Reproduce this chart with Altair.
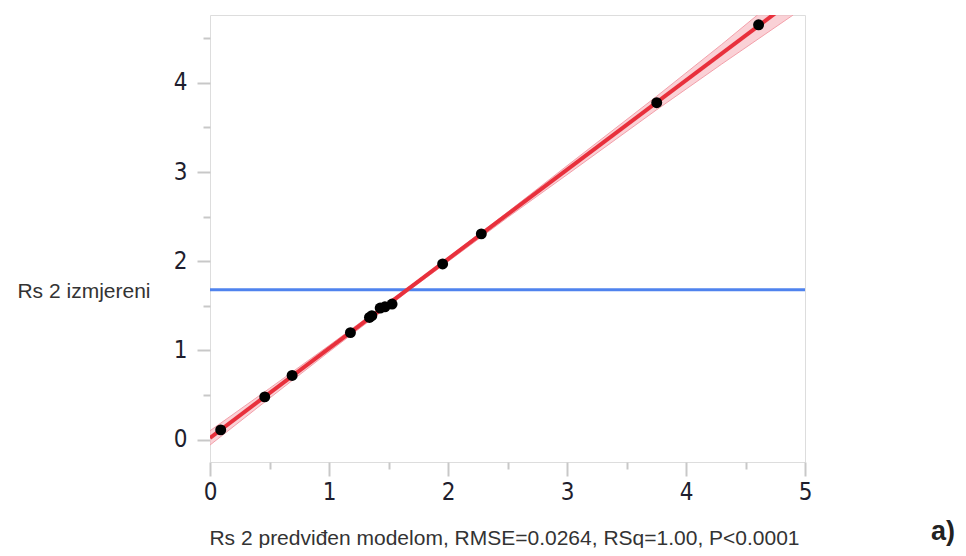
import altair as alt
import pandas as pd

# measured points
x_pred = [0.09, 0.46, 0.69, 1.18, 1.34, 1.36, 1.43, 1.47, 1.53, 1.955, 2.28, 3.754, 4.61]
y_meas = [0.11, 0.48, 0.72, 1.20, 1.37, 1.39, 1.475, 1.49, 1.52, 1.97, 2.307, 3.777, 4.65]

# fit line
fit_x = [0.0, 4.9]
fit_y = [0.02, 4.93]

# confidence band
band_x = [0.0, 0.5, 1.0, 1.7, 2.5, 3.0, 3.75, 4.3, 4.9]
band_lo = [-0.06, 0.465, 0.985, 1.70, 2.49, 2.97, 3.695, 4.21, 4.76]
band_hi = [0.10, 0.575, 1.055, 1.74, 2.55, 3.07, 3.845, 4.43, 5.09]

mean_y = 1.68

major_ticks = [0, 1, 2, 3, 4, 5]
major_ticks_y = [0, 1, 2, 3, 4]
minor_ticks = [0.5, 1.5, 2.5, 3.5, 4.5]

x_title = "Rs 2 predviđen modelom, RMSE=0.0264, RSq=1.00, P<0.0001"
y_title = "Rs 2 izmjereni"
panel_label = "a)"

pts = pd.DataFrame({"x": x_pred, "y": y_meas})
fit = pd.DataFrame({"x": fit_x, "y": fit_y})
band = pd.DataFrame({"x": band_x, "lo": band_lo, "hi": band_hi})
mean_df = pd.DataFrame({"y": [mean_y]})
lab = pd.DataFrame({"t": [panel_label]})

xs = alt.Scale(domain=[0, 5], nice=False, zero=False)
ys = alt.Scale(domain=[-0.25, 4.76], nice=False, zero=False)

label_font = "DejaVu Sans Condensed"
title_font = "Liberation Sans"

x_major = alt.Axis(values=major_ticks, tickSize=14, tickColor="#c8c8c8", tickWidth=2,
                   domain=False, grid=False, labelFont=label_font, labelFontSize=24,
                   labelColor="#1e1e2e", labelPadding=4, labelFlush=False, title=x_title,
                   titleFont=title_font, titleFontSize=21, titleFontWeight="normal",
                   titleColor="#333333", titleX=294, titleY=82, titleAlign="center",
                   titleBaseline="alphabetic", orient="bottom")
y_major = alt.Axis(values=major_ticks_y, tickSize=13, tickColor="#c8c8c8", tickWidth=2,
                   domain=False, grid=False, labelFont=label_font, labelFontSize=24,
                   labelColor="#1e1e2e", labelPadding=10, labelFlush=False, title=y_title,
                   titleFont=title_font, titleFontSize=21, titleFontWeight="normal",
                   titleColor="#333333", titleAngle=0, titleAlign="right",
                   titleBaseline="middle", titleX=-60, titleY=276, orient="left")
x_minor = alt.Axis(values=minor_ticks, tickSize=7, tickColor="#c8c8c8", tickWidth=2,
                   domain=False, grid=False, labels=False, title=None, orient="bottom")
y_minor = alt.Axis(values=minor_ticks, tickSize=7, tickColor="#c8c8c8", tickWidth=2,
                   domain=False, grid=False, labels=False, title=None, orient="left")

band_layer = alt.Chart(band).mark_area(clip=True, color="#f7b9c0", opacity=0.65).encode(
    x=alt.X("x:Q", scale=xs, axis=x_major),
    y=alt.Y("lo:Q", scale=ys, axis=y_major),
    y2="hi:Q",
)
band_lo_line = alt.Chart(band).mark_line(clip=True, color="#f3a0aa", strokeWidth=1).encode(
    x=alt.X("x:Q", scale=xs, axis=x_minor),
    y=alt.Y("lo:Q", scale=ys, axis=y_minor),
)
band_hi_line = alt.Chart(band).mark_line(clip=True, color="#f3a0aa", strokeWidth=1).encode(
    x=alt.X("x:Q", scale=xs, axis=None),
    y=alt.Y("hi:Q", scale=ys, axis=None),
)
mean_layer = alt.Chart(mean_df).mark_rule(color="#4f83ee", strokeWidth=3).encode(
    y=alt.Y("y:Q", scale=ys, axis=None),
)
fit_layer = alt.Chart(fit).mark_line(clip=True, color="#e8303c", strokeWidth=4).encode(
    x=alt.X("x:Q", scale=xs, axis=None),
    y=alt.Y("y:Q", scale=ys, axis=None),
)
pts_layer = alt.Chart(pts).mark_point(filled=True, color="black", opacity=1, size=120).encode(
    x=alt.X("x:Q", scale=xs, axis=None),
    y=alt.Y("y:Q", scale=ys, axis=None),
)
lab_layer = alt.Chart(lab).mark_text(font=title_font, fontSize=27, fontWeight="bold",
                                     color="#222222", align="right", baseline="alphabetic").encode(
    text="t:N", x=alt.value(745), y=alt.value(525),
)

chart = alt.layer(band_layer, band_lo_line, band_hi_line, mean_layer, fit_layer, pts_layer, lab_layer).resolve_axis(
    x="independent", y="independent"
).properties(
    width=595, height=447,
    autosize=alt.AutoSizeParams(type="none"),
    padding={"left": 202, "top": 7, "right": 153, "bottom": 86},
).configure_view(
    stroke="#cccccc", strokeWidth=2
).configure(background="white")

chart.save("out.html", embed_options={"renderer": "svg", "actions": False})
